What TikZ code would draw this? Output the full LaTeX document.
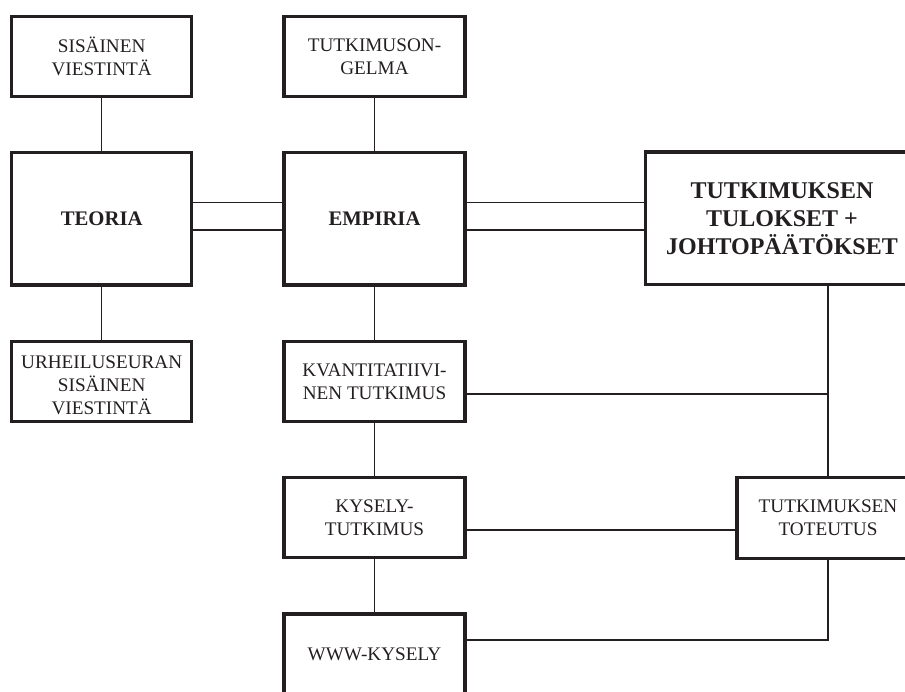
\documentclass[tikz,border=0pt]{standalone}
\usepackage{fontspec}
\setmainfont{Liberation Serif}
\definecolor{ink}{RGB}{35,31,32}
\begin{document}
\begin{tikzpicture}[x=1pt,y=-1pt,
  box/.style={draw=ink, line width=3.4pt, text=ink, align=center, inner sep=0pt,
    font=\fontsize{19.2}{23.3}\selectfont},
  boldbox/.style={box, font=\fontsize{20.7}{24}\selectfont\bfseries},
  bigbox/.style={box, font=\fontsize{24}{27.8}\selectfont\bfseries},
  conn/.style={draw=ink, line width=1.5pt}]
\useasboundingbox (0,0) rectangle (905,691);
\clip (0,0) rectangle (905,691);
% boxes
\node[box, minimum width=180pt, minimum height=80pt] (sis) at (101.7,56.7) {SISÄINEN\\VIESTINTÄ};
\node[box, minimum width=181pt, minimum height=80pt] (tutk) at (374.5,56.7) {TUTKIMUSON-\\GELMA};
\node[boldbox, minimum width=180pt, minimum height=132.7pt] (teo) at (101.7,218.7) {TEORIA};
\node[boldbox, minimum width=181pt, minimum height=132.7pt] (emp) at (374.5,218.7) {EMPIRIA};
\node[bigbox, minimum width=272.6pt, minimum height=132.7pt] (tul) at (782,218.4) {TUTKIMUKSEN\\TULOKSET +\\JOHTOPÄÄTÖKSET};
\node[box, minimum width=180pt, minimum height=80pt] (urh) at (101.7,381.7) {\rule{0pt}{20pt}URHEILUSEURAN\\SISÄINEN\\VIESTINTÄ};
\node[box, minimum width=181pt, minimum height=80pt] (kva) at (374.5,381.7) {KVANTITATIIVI-\\NEN TUTKIMUS};
\node[box, minimum width=181pt, minimum height=80.4pt] (kys) at (374.5,517.5) {KYSELY-\\TUTKIMUS};
\node[box, minimum width=181pt, minimum height=81pt] (www) at (374.5,654.5) {WWW-KYSELY};
\node[box, minimum width=182pt, minimum height=81pt] (tot) at (828,517.8) {TUTKIMUKSEN\\TOTEUTUS};
% helper coordinates
\coordinate (d1) at (0,202.7);
\coordinate (d2) at (0,230);
\coordinate (k1) at (828,394);
\coordinate (k2) at (0,530);
\coordinate (k3) at (0,640);
% connectors
\draw[conn] (sis) -- (teo);
\draw[conn] (teo) -- (urh);
\draw[conn] (tutk) -- (emp);
\draw[conn] (emp) -- (kva);
\draw[conn] (kva) -- (kys);
\draw[conn] (kys) -- (www);
\draw[conn] (teo.east |- d1) -- (emp.west |- d1);
\draw[conn] (teo.east |- d2) -- (emp.west |- d2);
\draw[conn] (emp.east |- d1) -- (tul.west |- d1);
\draw[conn] (emp.east |- d2) -- (tul.west |- d2);
\draw[conn] (tul.south -| tot.north) -- (tot.north);
\draw[conn] (kva.east |- k1) -- (k1);
\draw[conn] (kys.east |- k2) -- (tot.west |- k2);
\draw[conn] (tot.south) -- (tot.south |- k3) -- (www.east |- k3);
\end{tikzpicture}
\end{document}
